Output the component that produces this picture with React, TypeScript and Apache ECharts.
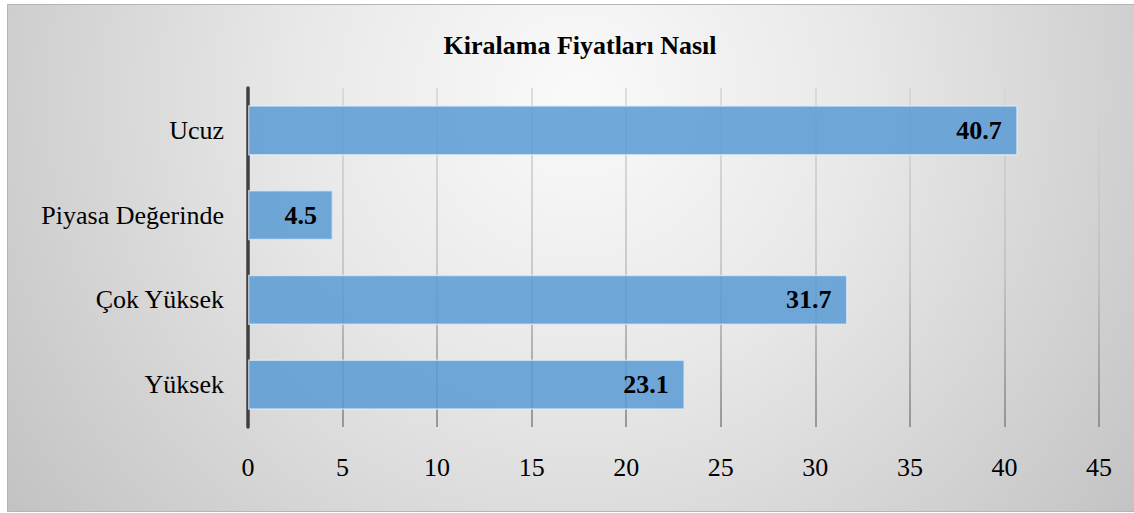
import React, { useEffect, useRef } from "react";
import * as echarts from "echarts";

const titleText = "Kiralama Fiyatları Nasıl";
const categories = ["Yüksek", "Çok Yüksek", "Piyasa Değerinde", "Ucuz"];
const values = [23.1, 31.7, 4.5, 40.7];
const xMin = 0;
const xMax = 45;
const xInterval = 5;

const FONT = "'Liberation Serif', 'Times New Roman', serif";

export default function App() {
  const ref = useRef<HTMLDivElement>(null);

  useEffect(() => {
    if (!ref.current) return;
    const chart = echarts.init(ref.current, null, { renderer: "svg" });
    chart.setOption({
      animation: false,
      backgroundColor: "transparent",
      title: {
        text: titleText,
        left: 575,
        top: 27,
        textAlign: "center",
        textStyle: { fontFamily: FONT, fontSize: 26, fontWeight: "bold", color: "#000" },
      },
      grid: { left: 248, right: 35, top: 88, bottom: 86, containLabel: false },
      xAxis: {
        type: "value",
        min: xMin,
        max: xMax,
        interval: xInterval,
        axisLine: { show: false },
        axisTick: { show: false },
        axisLabel: { fontFamily: FONT, fontSize: 26, color: "#000", margin: 27 },
        splitLine: {
          show: true,
          lineStyle: {
            width: 1.5,
            color: {
              type: "linear",
              x: 0,
              y: 88,
              x2: 0,
              y2: 427,
              global: true,
              colorStops: [
                { offset: 0, color: "#d4d4d4" },
                { offset: 0.55, color: "#bdbdbd" },
                { offset: 1, color: "#7f7f7f" },
              ],
            },
          },
        },
      },
      yAxis: {
        type: "category",
        data: categories,
        axisLine: { show: true, lineStyle: { color: "#404040", width: 3.5 } },
        axisTick: { show: false },
        axisLabel: { fontFamily: FONT, fontSize: 26, color: "#000", margin: 24 },
        splitLine: { show: false },
      },
      series: [
        {
          type: "bar",
          data: values,
          barCategoryGap: "41%",
          itemStyle: {
            color: "rgba(91,155,213,0.86)",
            borderColor: "rgba(225,236,248,0.7)",
            borderWidth: 1.5,
          },
          label: {
            show: true,
            position: "insideRight",
            distance: 16,
            fontFamily: FONT,
            fontSize: 26,
            fontWeight: "bold",
            color: "#000",
          },
        },
      ],
    });
    return () => chart.dispose();
  }, []);

  return (
    <div style={{ position: "absolute", left: 0, top: 0, width: 1134, height: 513, background: "#fff" }}>
      <div
        style={{
          position: "absolute",
          left: 7,
          top: 4,
          width: 1140,
          height: 506,
          border: "1px solid #b5b5b5",
          background:
            "radial-gradient(ellipse 62% 140% at 50% 18%, #fafafa 0%, #e8e8e8 40%, #c2c2c2 100%)",
        }}
      />
      <div ref={ref} style={{ position: "absolute", left: 0, top: 0, width: 1134, height: 513 }} />
    </div>
  );
}
